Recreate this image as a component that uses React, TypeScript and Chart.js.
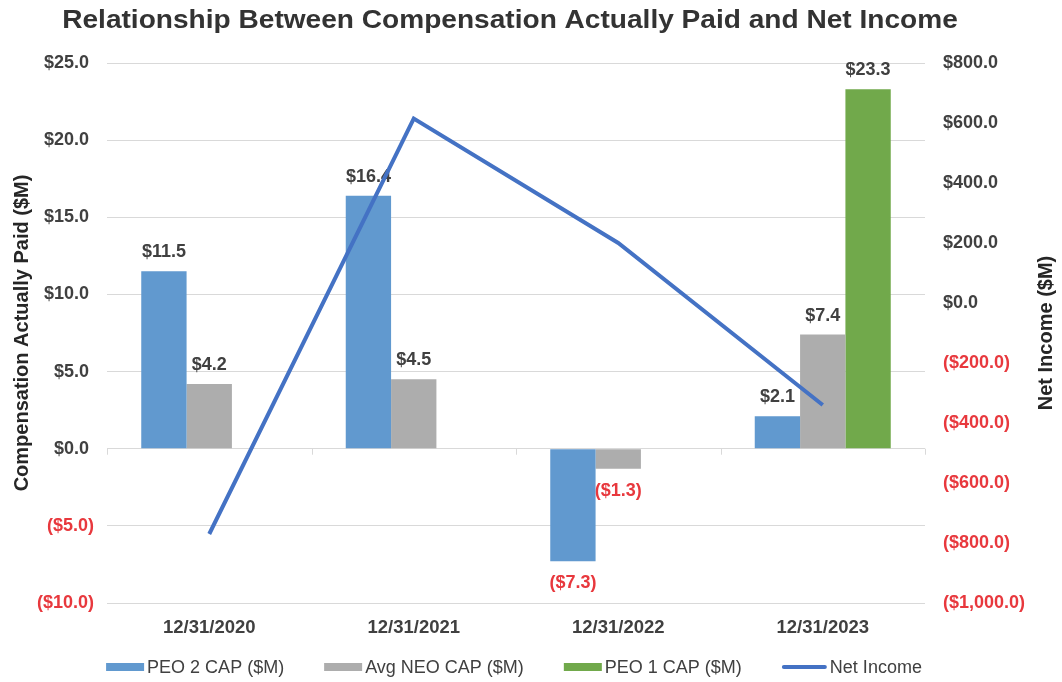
import React, { useEffect, useRef } from "react";
import { Chart, registerables } from "chart.js";

Chart.register(...registerables);

const categories = ["12/31/2020", "12/31/2021", "12/31/2022", "12/31/2023"];
const peo2Cap: (number | null)[] = [11.5, 16.4, -7.3, 2.1];
const avgNeoCap: (number | null)[] = [4.2, 4.5, -1.3, 7.4];
const peo1Cap: (number | null)[] = [null, null, null, 23.3];
const netIncome: number[] = [-770, 615, 200, -340];
const seriesNames = ["PEO 2 CAP ($M)", "Avg NEO CAP ($M)", "PEO 1 CAP ($M)", "Net Income"];
const chartTitle = "Relationship Between Compensation Actually Paid and Net Income";
const leftAxisTitle = "Compensation Actually Paid ($M)";
const rightAxisTitle = "Net Income ($M)";

const FONT = "'Liberation Sans', Arial, Helvetica, sans-serif";
const DARK = "#404040";
const RED = "#E8383D";
const GRID = "#d9d9d9";
const BLUE = "#6199CF";
const GRAY = "#ADADAD";
const GREEN = "#71A94B";
const LINE = "#4472C4";

const fmt = (v: number) => {
  const s =
    "$" +
    Math.abs(v).toLocaleString("en-US", {
      minimumFractionDigits: 1,
      maximumFractionDigits: 1,
    });
  return v < 0 ? "(" + s + ")" : s;
};

const barLabelPlugin = {
  id: "barLabels",
  afterDatasetDraw(chart: any, args: any) {
    const ds = chart.data.datasets[args.index];
    if (ds.type !== "bar") return;
    const ctx = chart.ctx;
    ctx.save();
    ctx.font = `bold 18px ${FONT}`;
    ctx.textAlign = "center";
    ctx.textBaseline = "middle";
    args.meta.data.forEach((el: any, i: number) => {
      const v = ds.data[i];
      if (v == null) return;
      const { x, y } = el.getProps(["x", "y"], true);
      if (v >= 0) {
        ctx.fillStyle = DARK;
        ctx.fillText(fmt(v), x, y - 19);
      } else {
        ctx.fillStyle = RED;
        ctx.fillText(fmt(v), x, y + 22);
      }
    });
    ctx.restore();
  },
};

const zeroTicksPlugin = {
  id: "zeroTicks",
  beforeDatasetsDraw(chart: any) {
    const xs = chart.scales.x;
    const ys = chart.scales.y;
    const ctx = chart.ctx;
    const y0 = ys.getPixelForValue(0);
    const n = chart.data.labels.length;
    const step = xs.getPixelForValue(1) - xs.getPixelForValue(0);
    const start = xs.getPixelForValue(0) - step / 2;
    ctx.save();
    ctx.strokeStyle = GRID;
    ctx.lineWidth = 1;
    ctx.beginPath();
    for (let i = 0; i <= n; i++) {
      const px = Math.round(start + i * step) + 0.5;
      ctx.moveTo(px, y0);
      ctx.lineTo(px, y0 + 6);
    }
    ctx.stroke();
    ctx.restore();
  },
};

const decorPlugin = {
  id: "decor",
  afterDraw(chart: any) {
    const ctx = chart.ctx;
    const area = chart.chartArea;
    const cx = (area.left + area.right) / 2;
    const cy = (area.top + area.bottom) / 2;
    ctx.save();
    // title
    ctx.fillStyle = "#333333";
    ctx.font = `bold 26px ${FONT}`;
    ctx.textAlign = "center";
    ctx.textBaseline = "middle";
    ctx.save();
    ctx.translate(cx - 6, 21);
    ctx.scale(1.08, 1);
    ctx.fillText(chartTitle, 0, 0);
    ctx.restore();

    // axis titles
    ctx.font = `bold 20px ${FONT}`;
    ctx.fillStyle = "#262626";
    ctx.save();
    ctx.translate(22, cy);
    ctx.rotate(-Math.PI / 2);
    ctx.fillText(leftAxisTitle, 0, 0);
    ctx.restore();
    ctx.save();
    ctx.translate(1046, cy);
    ctx.rotate(-Math.PI / 2);
    ctx.fillText(rightAxisTitle, 0, 0);
    ctx.restore();

    // legend
    ctx.font = `18px ${FONT}`;
    ctx.textAlign = "left";
    const colors = [BLUE, GRAY, GREEN, LINE];
    const boxW = 38;
    const lineW = 45;
    const gapBox = 3;
    const gapItem = 40;
    const widths = seriesNames.map((name, i) => (i === 3 ? lineW : boxW) + gapBox + ctx.measureText(name).width);
    const total = widths.reduce((a, b) => a + b, 0) + gapItem * (seriesNames.length - 1);
    let x = cx - 2 - total / 2;
    const ly = 667;
    seriesNames.forEach((name, i) => {
      if (i === 3) {
        ctx.strokeStyle = colors[i];
        ctx.lineWidth = 4;
        ctx.lineCap = "round";
        ctx.beginPath();
        ctx.moveTo(x + 2, ly);
        ctx.lineTo(x + lineW - 2, ly);
        ctx.stroke();
        x += lineW + gapBox;
      } else {
        ctx.fillStyle = colors[i];
        ctx.fillRect(x, ly - 4, boxW, 8);
        x += boxW + gapBox;
      }
      ctx.fillStyle = DARK;
      ctx.fillText(name, x, ly + 1);
      x += ctx.measureText(name).width + gapItem;
    });
    ctx.restore();
  },
};

export default function App() {
  const ref = useRef<HTMLCanvasElement | null>(null);

  useEffect(() => {
    if (!ref.current) return;
    Chart.defaults.font.family = FONT;
    const chart = new Chart(ref.current, {
      type: "bar",
      data: {
        labels: categories,
        datasets: [
          {
            type: "bar",
            label: seriesNames[0],
            data: peo2Cap,
            backgroundColor: BLUE,
            yAxisID: "y",
            order: 1,
            categoryPercentage: 0.665,
            barPercentage: 1,
          },
          {
            type: "bar",
            label: seriesNames[1],
            data: avgNeoCap,
            backgroundColor: GRAY,
            yAxisID: "y",
            order: 1,
            categoryPercentage: 0.665,
            barPercentage: 1,
          },
          {
            type: "bar",
            label: seriesNames[2],
            data: peo1Cap,
            backgroundColor: GREEN,
            yAxisID: "y",
            order: 1,
            categoryPercentage: 0.665,
            barPercentage: 1,
          },
          {
            type: "line",
            label: seriesNames[3],
            data: netIncome,
            borderColor: LINE,
            backgroundColor: LINE,
            borderWidth: 4,
            pointRadius: 0,
            tension: 0,
            yAxisID: "y1",
            order: 0,
          },
        ] as any,
      },
      options: {
        animation: false,
        responsive: true,
        maintainAspectRatio: false,
        layout: { padding: { top: 63, bottom: 43, left: 0, right: 0 } },
        plugins: {
          legend: { display: false },
          title: { display: false },
          tooltip: { enabled: false },
        },
        scales: {
          x: {
            offset: true,
            grid: { display: false, drawTicks: false },
            border: { display: false },
            ticks: {
              font: { size: 18.5, weight: "bold" },
              color: DARK,
              padding: 14,
            },
            afterFit: (s: any) => {
              s.height = 36;
            },
          },
          y: {
            position: "left",
            min: -10,
            max: 25,
            grid: { color: GRID, drawTicks: false, lineWidth: 1 },
            border: { display: false },
            ticks: {
              stepSize: 5,
              padding: 13,
              font: { size: 18, weight: "bold" },
              color: (c: any) => (c.tick && c.tick.value < 0 ? RED : DARK),
              callback: (v: any) => (v < 0 ? fmt(v) : fmt(v) + "\u2008"),
            },
            afterFit: (s: any) => {
              s.width = 107;
            },
          },
          y1: {
            position: "right",
            min: -1000,
            max: 800,
            grid: { display: false, drawTicks: false },
            border: { display: false },
            ticks: {
              stepSize: 200,
              padding: 18,
              font: { size: 18, weight: "bold" },
              color: (c: any) => (c.tick && c.tick.value < 0 ? RED : DARK),
              callback: (v: any) => fmt(v),
            },
            afterFit: (s: any) => {
              s.width = 137;
            },
          },
        },
      } as any,
      plugins: [zeroTicksPlugin, barLabelPlugin, decorPlugin],
    });
    return () => chart.destroy();
  }, []);

  return (
    <div
      style={{
        position: "fixed",
        left: 0,
        top: 0,
        width: 1062,
        height: 682,
        background: "#ffffff",
      }}
    >
      <canvas ref={ref} />
    </div>
  );
}
